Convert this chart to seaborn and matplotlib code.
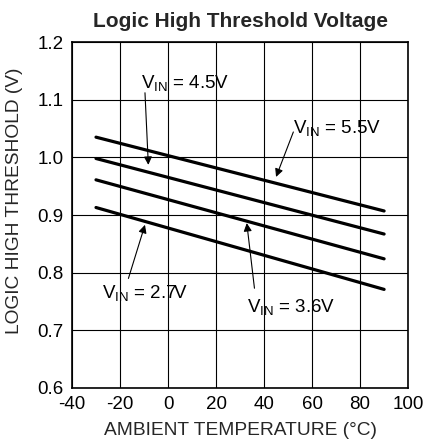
import pandas as pd
import matplotlib
matplotlib.use("Agg")
import matplotlib.pyplot as plt
import seaborn as sns

# each curve is a straight line from -30 C to 90 C
temps = [-30, 90]
v_55 = [1.035, 0.907]
v_45 = [0.998, 0.867]
v_36 = [0.961, 0.824]
v_27 = [0.913, 0.771]
labels = ["5.5V", "4.5V", "3.6V", "2.7V"]

x_ticks = [-40, -20, 0, 20, 40, 60, 80, 100]
y_ticks = [0.6, 0.7, 0.8, 0.9, 1.0, 1.1, 1.2]

sns.set_theme(style="white")
plt.rcParams["font.family"] = ["Liberation Sans", "DejaVu Sans"]
plt.rcParams["mathtext.fontset"] = "custom"
plt.rcParams["mathtext.rm"] = "Liberation Sans"
plt.rcParams["mathtext.it"] = "Liberation Sans"
plt.rcParams["axes.unicode_minus"] = False

FS = 13.5


def main():
    rows = []
    for lab, vals in zip(labels, [v_55, v_45, v_36, v_27]):
        for t, v in zip(temps, vals):
            rows.append({"temp": t, "volt": v, "vin": lab})
    df = pd.DataFrame(rows)

    fig = plt.figure(figsize=(4.26, 4.47), dpi=100)
    ax = fig.add_axes([0.169, 0.132, 0.789, 0.774])

    sns.lineplot(data=df, x="temp", y="volt", hue="vin", units="vin",
                 estimator=None, palette=["black"] * 4, linewidth=2.3,
                 legend=False, ax=ax)

    ax.set_xlim(-40, 100)
    ax.set_ylim(0.6, 1.2)
    ax.set_xticks(x_ticks)
    ax.set_yticks(y_ticks)
    ax.set_yticklabels([f"{y:.1f}" for y in y_ticks])
    ax.grid(True, color="black", linewidth=0.8)
    for s in ax.spines.values():
        s.set_color("black")
        s.set_linewidth(1.2)
    ax.tick_params(length=0, labelsize=FS, colors="black", pad=6)

    ax.set_title("Logic High Threshold Voltage", fontsize=15,
                 fontweight="bold", pad=11)
    ax.set_xlabel("AMBIENT TEMPERATURE (°C)", fontsize=13.8, labelpad=6)
    ax.set_ylabel("LOGIC HIGH THRESHOLD (V)", fontsize=13.8)
    ax.yaxis.set_label_coords(-0.145, 0.54)

    arrow = dict(arrowstyle="-|>", color="black", lw=0.8, mutation_scale=12,
                 shrinkA=0, shrinkB=0)
    notes = [
        ("4.5V", (-8.2, 0.987), (7, 1.129), (-9.6, 1.112)),
        ("5.5V", (45, 0.966), (70.3, 1.051), (52.2, 1.044)),
        ("2.7V", (-9.6, 0.883), (-9.6, 0.764), (-16.5, 0.790)),
        ("3.6V", (32.8, 0.886), (51.3, 0.741), (36, 0.773)),
    ]
    for lab, tip, txt, tail in notes:
        ax.annotate("", xy=tip, xytext=tail, arrowprops=arrow)
        ax.text(txt[0], txt[1], r"V$_{\mathrm{IN}}$ = " + lab, fontsize=FS,
                ha="center", va="center", color="black")

    fig.savefig("out.png", dpi=100)
    plt.close(fig)


if __name__ == "__main__":
    main()
